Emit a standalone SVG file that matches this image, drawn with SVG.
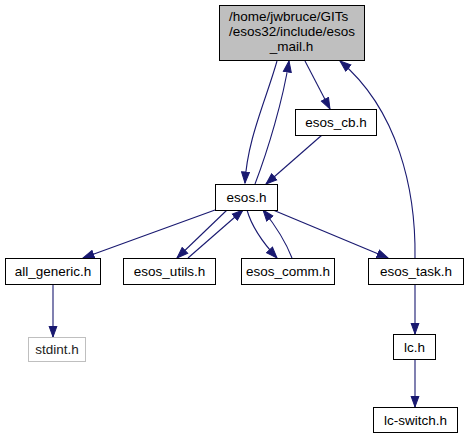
<svg xmlns="http://www.w3.org/2000/svg" width="467" height="440" viewBox="0 0 467 440">
<style>
.n rect{fill:#fff;stroke:#000;stroke-width:1}
.n text{font-family:"Liberation Sans",Arial,sans-serif;font-size:13.5px;fill:#000;text-anchor:middle}
#top rect{fill:#bfbfbf}
#stdint rect{stroke:#bfbfbf}
#stdint text{fill:#222}
.e path{fill:none;stroke:#191970;stroke-width:1.1}
</style>
<defs>
<marker id="a" markerUnits="userSpaceOnUse" markerWidth="13" markerHeight="10" refX="11.5" refY="4.5" orient="auto" viewBox="0 0 13 9">
<path d="M0.5,0.5 L11.5,4.5 L0.5,8.5 Z" fill="#191970" stroke="#191970"/>
</marker>
</defs>
<g class="e">
<path d="M277,61 C266,100 247,140 245,183" marker-end="url(#a)"/>
<path d="M255,184 C268,150 283,100 289,61" marker-end="url(#a)"/>
<path d="M305,61 L330,109" marker-end="url(#a)"/>
<path d="M322,135 L266,184" marker-end="url(#a)"/>
<path d="M415,258 C416,190 398,110 340,61" marker-end="url(#a)"/>
<path d="M215,210 L83,258" marker-end="url(#a)"/>
<path d="M227,210 L177,258" marker-end="url(#a)"/>
<path d="M188,258 L243,210" marker-end="url(#a)"/>
<path d="M247,210 C252,228 265,245 277,258" marker-end="url(#a)"/>
<path d="M292,258 C285,240 275,225 263,210" marker-end="url(#a)"/>
<path d="M273,210 L388,258" marker-end="url(#a)"/>
<path d="M415,284 L415,334" marker-end="url(#a)"/>
<path d="M415,359 L415,407" marker-end="url(#a)"/>
<path d="M53,284 L53,337" marker-end="url(#a)"/>
</g>
<g id="top" class="n"><rect x="219.5" y="5.5" width="145" height="55"/>
<text x="229" y="21" style="text-anchor:start">/home/jwbruce/GITs</text>
<text x="229" y="36" style="text-anchor:start">/esos32/include/esos</text>
<text x="291.5" y="51">_mail.h</text></g>
<g id="esos_cb" class="n"><rect x="295.5" y="109.5" width="81" height="26"/><text x="336" y="127">esos_cb.h</text></g>
<g id="esos" class="n"><rect x="215.5" y="184.5" width="62" height="26"/><text x="246.5" y="202">esos.h</text></g>
<g id="all_generic" class="n"><rect x="5.5" y="258.5" width="95" height="26"/><text x="53" y="276">all_generic.h</text></g>
<g id="esos_utils" class="n"><rect x="123.5" y="258.5" width="92" height="26"/><text x="169.5" y="276">esos_utils.h</text></g>
<g id="esos_comm" class="n"><rect x="241.5" y="258.5" width="93" height="26"/><text x="288" y="276">esos_comm.h</text></g>
<g id="esos_task" class="n"><rect x="368.5" y="258.5" width="95" height="26"/><text x="416" y="276">esos_task.h</text></g>
<g id="stdint" class="n"><rect x="28.5" y="337.5" width="57" height="24"/><text x="57" y="354">stdint.h</text></g>
<g id="lc" class="n"><rect x="393.5" y="334.5" width="42" height="25"/><text x="414.5" y="351.5">lc.h</text></g>
<g id="lc_switch" class="n"><rect x="373.5" y="407.5" width="84" height="25"/><text x="415.5" y="424.5">lc-switch.h</text></g>
</svg>
